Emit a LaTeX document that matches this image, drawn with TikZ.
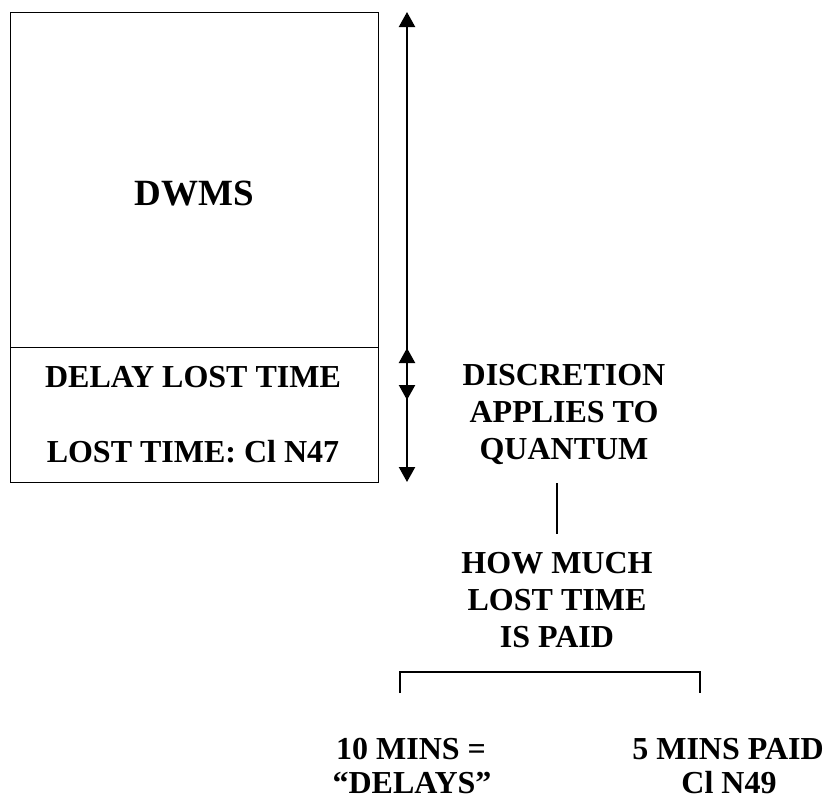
\documentclass[tikz,border=0pt]{standalone}
\usepackage{fontspec}
\setmainfont{Liberation Serif}
\usetikzlibrary{arrows.meta}
\begin{document}
\begin{tikzpicture}[x=1pt,y=-1pt,
  lbl/.style={inner sep=0pt, anchor=base, font=\fontsize{32}{37}\selectfont\bfseries},
  big/.style={inner sep=0pt, anchor=base, font=\fontsize{37}{42}\selectfont\bfseries},
  frame/.style={draw, line width=1.4pt, inner sep=0pt, anchor=north west},
  dim/.style={line width=2.2pt, {Triangle[length=15pt,width=16pt]}-{Triangle[length=15pt,width=16pt]}},
  link/.style={line width=2pt}]
\useasboundingbox (0,0) rectangle (827,801);
% box
\node[frame, minimum width=368pt, minimum height=335pt] (upper) at (10,12) {};
\node[frame, minimum width=368pt, minimum height=135pt] (lower) at (10,347) {};
\node[big] (dwms) at (194,205) {DWMS};
\node[lbl] (delay) at (193,387) {DELAY LOST TIME};
\node[lbl] (clause47) at (193,462) {LOST TIME: Cl N47};
% arrows
\coordinate (a1) at (407,12);
\coordinate (a2) at (407,400);
\coordinate (b1) at (407,348);
\coordinate (b2) at (407,482);
\draw[dim] (a1) -- (a2);
\draw[dim] (b1) -- (b2);
% discretion
\node[lbl] (d1) at (564,385) {DISCRETION};
\node[lbl] (d2) at (564,422) {APPLIES TO};
\node[lbl] (d3) at (564,459) {QUANTUM};
\coordinate (v1) at (557,483);
\coordinate (v2) at (557,534);
\draw[link] (v1) -- (v2);
\node[lbl] (h1) at (557,573) {HOW MUCH};
\node[lbl] (h2) at (557,610) {LOST TIME};
\node[lbl] (h3) at (557,647) {IS PAID};
% bracket
\coordinate (bl) at (400,693);
\coordinate (br) at (700,693);
\draw[link] (bl) -- (bl |- 0,672) -- (br |- 0,672) -- (br);
\node[lbl] (t1) at (411,759) {10 MINS =};
\node[lbl] (t2) at (412,793) {“DELAYS”};
\node[lbl] (f1) at (728,759) {5 MINS PAID};
\node[lbl] (f2) at (729,793) {Cl N49};
\end{tikzpicture}
\end{document}
